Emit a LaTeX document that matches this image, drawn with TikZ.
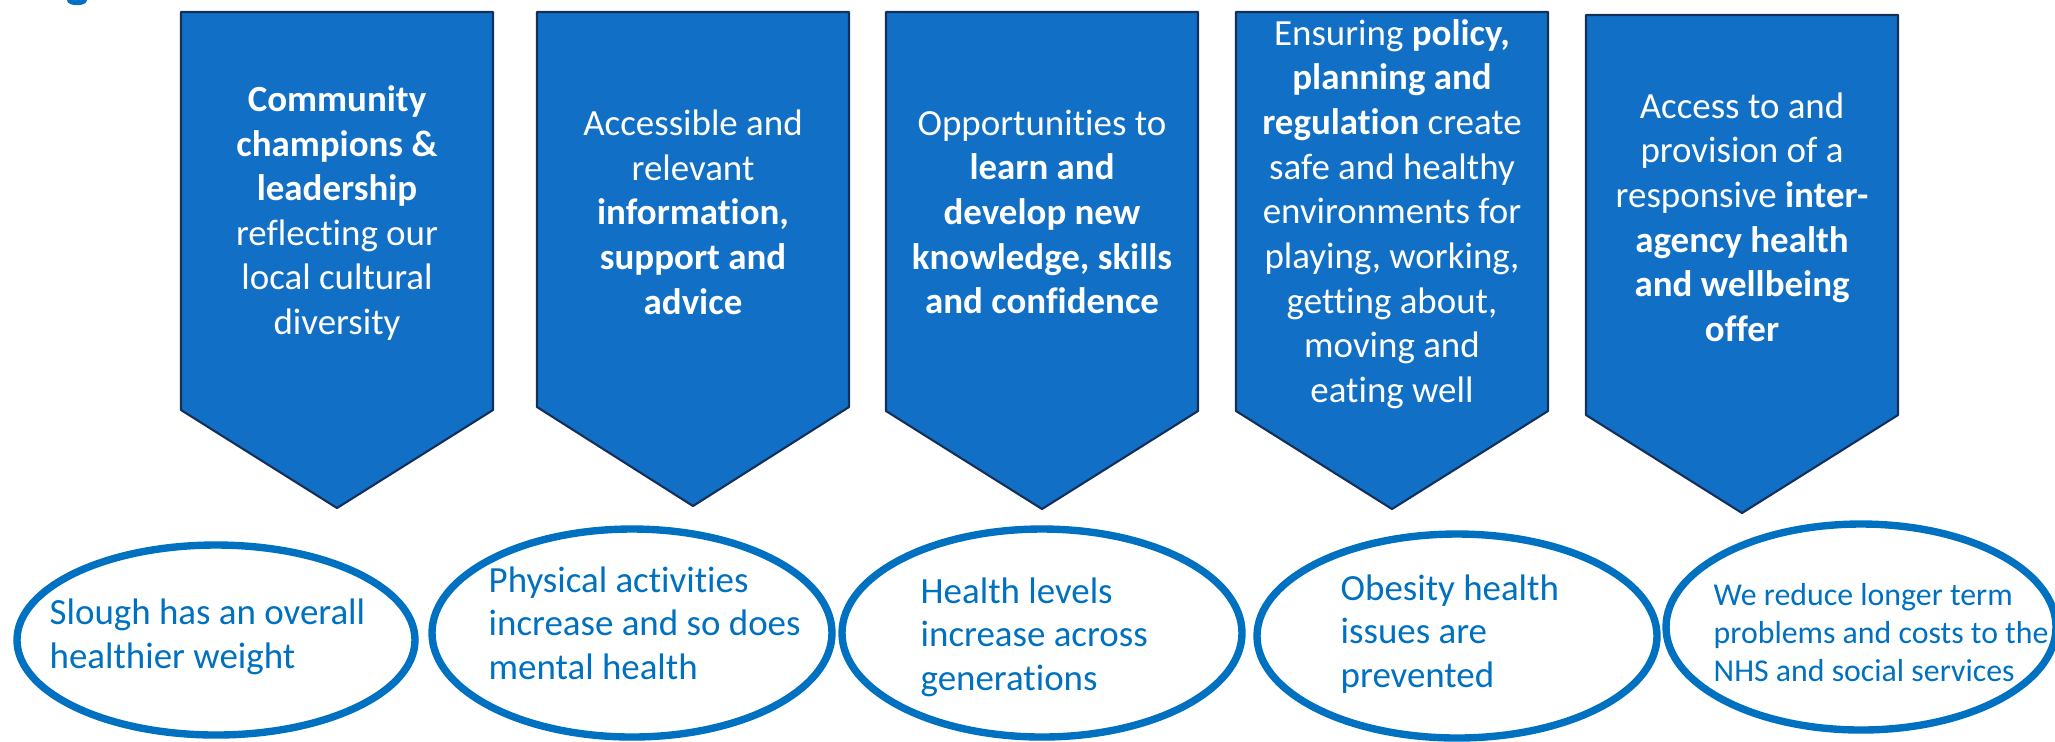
\documentclass[tikz,border=0pt]{standalone}
\usepackage{fontspec}
\setmainfont{Carlito}[Ligatures={NoCommon,NoContextual,NoRare}, RawFeature={-liga;-clig;-dlig}]
\definecolor{bannerblue}{RGB}{17,112,198}
\definecolor{banneredge}{RGB}{20,48,90}
\definecolor{ringblue}{RGB}{0,112,192}
\begin{document}
\begin{tikzpicture}[x=0.01cm, y=-0.01cm, line join=round, line cap=round,
	banner/.style={fill=bannerblue, draw=banneredge, line width=0.6pt},
	bannertext/.style={text=white, align=center, inner sep=0pt, font=\fontsize{10.5}{12.7}\selectfont},
	ring/.style={draw=ringblue, line width=2.1pt},
	ringtext/.style={text=ringblue, align=left, anchor=west, inner sep=0pt, font=\fontsize{10.5}{12.4}\selectfont}]
	\useasboundingbox (0,0) rectangle (2055,741);
	% cut-off title letter
	\fill[ringblue] (67,0) .. controls (67,7) and (87,7) .. (87,0) -- cycle;
	% banners: centre / top / shoulder / tip
	\foreach \x/\t/\s/\p in {337/12/410/508, 693/12/407/506, 1042/12/411/509, 1392/12/411/509, 1742/15/415/513}{
		\draw[banner] (\x-156,\t) -- (\x+156,\t) -- (\x+156,\s) -- (\x,\p) -- (\x-156,\s) -- cycle;
	}
	% outcome rings: centre / radii
	\foreach \x/\y/\a/\b in {216/640/199/95, 632/633/200/104, 1042/633/200/104, 1457/636/200/102, 1861/627/195/103}{
		\draw[ring] (\x,\y) ellipse ({\a*0.01cm} and {\b*0.01cm});
	}
	\node[bannertext] (lead) at (337,213) {\textbf{Community}\\\textbf{champions \&}\\\textbf{leadership}\\reflecting our\\local cultural\\diversity};
	\node[bannertext] (info) at (693,212) {Accessible and\\relevant\\\textbf{information,}\\\textbf{support and}\\\textbf{advice}};
	\node[bannertext] (learn) at (1042,212) {Opportunities to\\\textbf{learn and}\\\textbf{develop new}\\\textbf{knowledge, skills}\\\textbf{and confidence}};
	\node[bannertext] (policy) at (1392,214) {Ensuring \textbf{policy,}\\\textbf{planning and}\\\textbf{regulation} create\\safe and healthy\\environments for\\playing, working,\\getting about,\\moving and\\eating well};
	\node[bannertext] (offer) at (1742,217) {Access to and\\provision of a\\responsive \textbf{inter-}\\\textbf{agency health}\\\textbf{and wellbeing}\\\textbf{offer}};
	\node[ringtext] (weight) at (49,637) {Slough has an overall\\healthier weight};
	\node[ringtext] (active) at (488,623) {Physical activities\\increase and so does\\mental health};
	\node[ringtext] (levels) at (920,637) {Health levels\\increase across\\generations};
	\node[ringtext] (obesity) at (1340,634) {Obesity health\\issues are\\prevented};
	\node[ringtext, font=\fontsize{9.05}{10.8}\selectfont] (costs) at (1713,633) {We reduce longer term\\problems and costs to the\\NHS and social services};
\end{tikzpicture}
\end{document}
